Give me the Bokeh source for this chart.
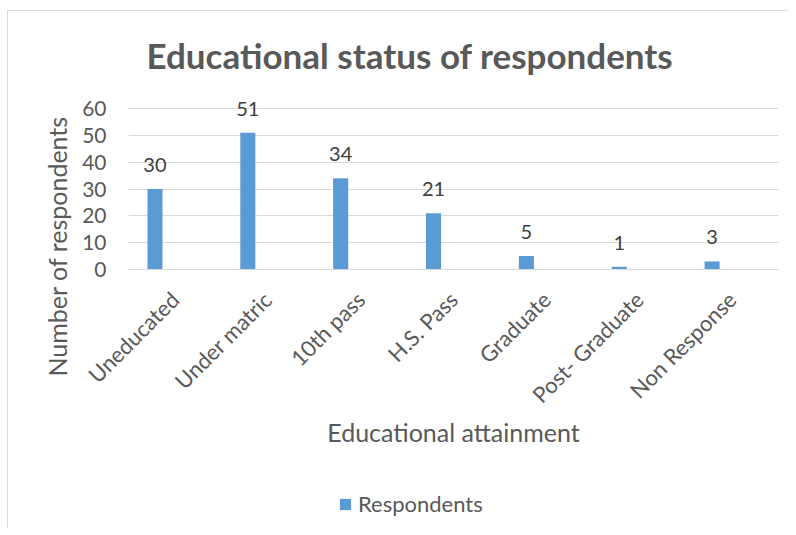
from bokeh.plotting import figure
from bokeh.models import (ColumnDataSource, FactorRange, Range1d, LabelSet, Title,
                          Legend, LegendItem, FixedTicker)
from bokeh.layouts import column
from bokeh.transform import dodge
from bokeh.embed import file_html
from bokeh.resources import INLINE
from bokeh.core.properties import value
import math

categories = ["Uneducated", "Under matric", "10th pass", "H.S. Pass", "Graduate",
              "Post- Graduate", "Non Response"]
respondents = [30, 51, 34, 21, 5, 1, 3]
y_ticks = [0, 10, 20, 30, 40, 50, 60]
series_name = "Respondents"
title_text = "Educational status of respondents"
x_title = "Educational attainment"
y_title = "Number of respondents"

FONT = "Lato"
GRAY = "#595959"
BAR = "#5B9BD5"
BORDER = "1px solid #d9d9d9"

source = ColumnDataSource(dict(cat=categories, val=respondents,
                               lbl=[str(v) for v in respondents]))

p = figure(frame_width=649, frame_height=174, output_backend="svg", toolbar_location=None,
           x_range=FactorRange(factors=categories, range_padding=0),
           y_range=Range1d(0, 65.25),
           min_border_left=120, min_border_right=11, min_border_top=83,
           min_border_bottom=190)
p.outline_line_color = None
p.background_fill_color = "white"
p.border_fill_color = "white"
p.styles = {"border-left": BORDER, "border-top": BORDER}

r = p.vbar(x=dodge("cat", -0.215, range=p.x_range), top="val", width=0.162,
           source=source, fill_color=BAR, line_color=None)

labels = LabelSet(x=dodge("cat", -0.215, range=p.x_range), y="val", text="lbl",
                  source=source, text_align="center", text_baseline="alphabetic",
                  y_offset=17, text_font=value(FONT), text_font_size="20px",
                  text_color="#404040")
p.add_layout(labels)

# axes
p.yaxis.ticker = FixedTicker(ticks=y_ticks)
p.yaxis.axis_line_color = None
p.yaxis.major_tick_line_color = None
p.yaxis.minor_tick_line_color = None
p.yaxis.major_label_standoff = 16
p.yaxis.major_label_text_font = FONT
p.yaxis.major_label_text_font_size = "21px"
p.yaxis.major_label_text_color = GRAY

p.xaxis.axis_line_color = "#d9d9d9"
p.xaxis.major_tick_line_color = None
p.xaxis.minor_tick_line_color = None
p.xaxis.major_label_orientation = math.pi / 4
p.xaxis.major_label_standoff = 20
p.xaxis.major_label_text_font = FONT
p.xaxis.major_label_text_font_size = "22px"
p.xaxis.major_label_text_color = GRAY
p.xaxis.axis_label = x_title
p.xaxis.axis_label_text_font = FONT
p.xaxis.axis_label_text_font_style = "normal"
p.xaxis.axis_label_text_font_size = "25px"
p.xaxis.axis_label_text_color = GRAY
p.xaxis.axis_label_standoff = -4

p.xgrid.grid_line_color = None
p.ygrid.grid_line_color = "#d9d9d9"
p.ygrid.grid_line_width = 1

p.add_layout(Title(text=title_text, align="left", offset=18, standoff=38,
                   text_font=FONT, text_font_style="bold", text_font_size="35px",
                   text_color=GRAY), "above")
p.add_layout(Title(text=y_title, align="left", offset=-107, standoff=15,
                   text_font=FONT, text_font_style="normal", text_font_size="25px",
                   text_color=GRAY), "left")

# legend strip below the chart (its frame is aligned with the chart's frame)
p2 = figure(width=780, height=70, output_backend="svg", toolbar_location=None,
            x_range=Range1d(0, 780), y_range=Range1d(0, 70),
            x_axis_location=None, y_axis_location=None,
            min_border=0, min_border_top=0, min_border_bottom=0)
p2.outline_line_color = None
p2.background_fill_color = "white"
p2.border_fill_color = "white"
p2.grid.visible = False
p2.styles = {"border-left": BORDER}
r2 = p2.quad(left="val", right="val", top="val", bottom="val", source=source,
             fill_color=BAR, line_color=None, visible=False)

legend = Legend(items=[LegendItem(label=series_name, renderers=[r2])],
                location=(210, 11), orientation="horizontal",
                border_line_color=None, background_fill_alpha=0, padding=0, margin=0,
                glyph_width=14, glyph_height=14, label_standoff=6,
                inactive_fill_alpha=0,
                label_text_font=FONT, label_text_font_size="22px",
                label_text_color=GRAY)
p2.add_layout(legend)

layout = column(p, p2, spacing=0)
layout.styles = {"margin-left": "7px", "margin-top": "10px"}

open("out.html", "w").write(file_html(layout, INLINE))
